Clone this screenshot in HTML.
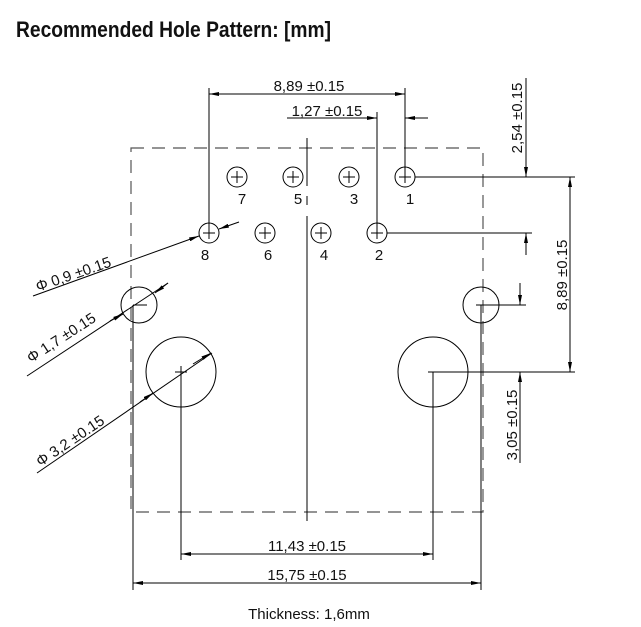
<!DOCTYPE html>
<html><head><meta charset="utf-8"><style>
html,body{margin:0;padding:0;background:#fff;}
svg{display:block;}
text{font-family:"Liberation Sans",Arial,sans-serif;fill:#111;}
</style></head><body>
<svg width="641" height="627" viewBox="0 0 641 627" xmlns="http://www.w3.org/2000/svg">
<defs>
<marker id="a" viewBox="0 0 10 4" refX="10" refY="2" markerWidth="10" markerHeight="4" markerUnits="userSpaceOnUse" orient="auto-start-reverse"><path d="M0,0 L10,2 L0,4 z" fill="#000"/></marker>
</defs>
<text x="16" y="37" font-size="22" font-weight="bold" textLength="315" lengthAdjust="spacingAndGlyphs">Recommended Hole Pattern: [mm]</text>

<rect x="131" y="148" width="352" height="364" fill="none" stroke="#555" stroke-width="1.2" stroke-dasharray="13,8"/>

<g stroke="#000" stroke-width="1" fill="none">
<path d="M307,138 V186 M307,196 V205 M307,216 V521"/>
<circle cx="237" cy="177" r="10"/><circle cx="293" cy="177" r="10"/><circle cx="349" cy="177" r="10"/><circle cx="405" cy="177" r="10"/>
<circle cx="209" cy="233" r="10"/><circle cx="265" cy="233" r="10"/><circle cx="321" cy="233" r="10"/><circle cx="377" cy="233" r="10"/>
<path d="M231,177h12M237,171v12 M287,177h12M293,171v12 M343,177h12M349,171v12 M399,177h12M405,171v12
M203,233h12M209,227v12 M259,233h12M265,227v12 M315,233h12M321,227v12 M371,233h12M377,227v12"/>
<circle cx="139" cy="305" r="18"/><circle cx="481" cy="305" r="18"/>
<circle cx="181" cy="372" r="35"/><circle cx="433" cy="372" r="35"/>
<path d="M133,305h14 M181,366v12 M175,372h12 M476,305h50 M428,372h147"/>

<path d="M209,88V233 M405,88V177 M377,112V233"/>
<path d="M209,94H405" marker-start="url(#a)" marker-end="url(#a)"/>
<path d="M287,118H377" marker-end="url(#a)"/>
<path d="M428,118H405" marker-end="url(#a)"/>

<path d="M415,177H575 M387,233H532"/>
<path d="M526,78V177" marker-end="url(#a)"/>
<path d="M526,255V233" marker-end="url(#a)"/>
<path d="M570,177V372" marker-start="url(#a)" marker-end="url(#a)"/>
<path d="M520,283V305" marker-end="url(#a)"/>
<path d="M520,463V372" marker-end="url(#a)"/>

<path d="M181,378V560 M433,372V560 M133,305V590 M481,305V590"/>
<path d="M181,554H433" marker-start="url(#a)" marker-end="url(#a)"/>
<path d="M133,583H481" marker-start="url(#a)" marker-end="url(#a)"/>

<path d="M33,296 L199,236" marker-end="url(#a)"/>
<path d="M239,222 L219,229" marker-end="url(#a)"/>
<path d="M27,376 L168,283"/>
<path d="M110,321 L123,314" marker-end="url(#a)"/>
<path d="M168,283 L155,293" marker-end="url(#a)"/>
<path d="M37,473 L212,353"/>
<path d="M140,402 L153,393" marker-end="url(#a)"/>
<path d="M193,364 L211,353" marker-end="url(#a)"/>
</g>

<g font-size="15" text-anchor="middle">
<text x="242" y="204">7</text><text x="298" y="204">5</text><text x="354" y="204">3</text><text x="410" y="204">1</text>
<text x="205" y="260">8</text><text x="268" y="260">6</text><text x="324" y="260">4</text><text x="379" y="260">2</text>
<text x="309" y="91">8,89 ±0.15</text>
<text x="327" y="116">1,27 ±0.15</text>
<text transform="translate(522,118) rotate(-90)">2,54 ±0.15</text>
<text transform="translate(567,275) rotate(-90)">8,89 ±0.15</text>
<text transform="translate(517,425) rotate(-90)">3,05 ±0.15</text>
<text x="307" y="551">11,43 ±0.15</text>
<text x="307" y="580">15,75 ±0.15</text>
<text x="309" y="619">Thickness: 1,6mm</text>
<text transform="translate(75,279) rotate(-19)">Φ 0,9 ±0.15</text>
<text transform="translate(64,342) rotate(-33)">Φ 1,7 ±0.15</text>
<text transform="translate(73,445) rotate(-34)">Φ 3,2 ±0.15</text>
</g>
</svg>
</body></html>
